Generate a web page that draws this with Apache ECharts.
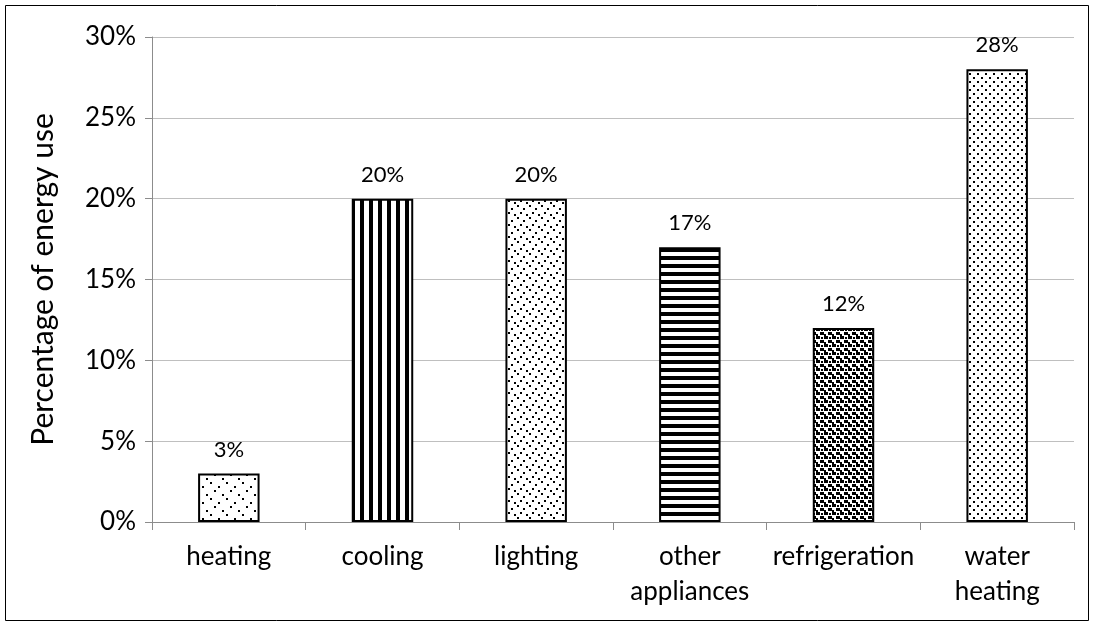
<!DOCTYPE html>
<html><head><meta charset="utf-8">
<script src="https://cdn.jsdelivr.net/npm/echarts@6/dist/echarts.min.js"></script>
<style>html,body{margin:0;padding:0;background:#fff}#c{width:1094px;height:626px}</style>
</head><body><div id="c"></div>
<script>
const categories = ['heating', 'cooling', 'lighting', 'other\nappliances', 'refrigeration', 'water\nheating'];
const values = [3, 20, 20, 17, 12, 28];
const yTicks = [0, 5, 10, 15, 20, 25, 30];

function pat(w, h, draw) {
  const c = document.createElement('canvas');
  c.width = w; c.height = h;
  const g = c.getContext('2d');
  g.fillStyle = '#fff'; g.fillRect(0, 0, w, h);
  g.fillStyle = '#000';
  draw(g);
  return { image: c, repeat: 'repeat' };
}
const patterns = [
  pat(16, 16, g => { g.fillRect(2, 2, 2, 2); g.fillRect(10, 6, 2, 2); g.fillRect(6, 10, 2, 2); g.fillRect(14, 14, 2, 2); }),
  pat(9, 9, g => { g.fillRect(0, 0, 4, 9); }),
  pat(12, 12, g => { g.fillRect(1, 1, 2, 2); g.fillRect(7, 4, 2, 2); g.fillRect(4, 8, 2, 2); g.fillRect(10, 10, 2, 2); }),
  pat(8, 8, g => { g.fillRect(0, 0, 8, 4); }),
  pat(8, 8, g => { g.fillRect(0, 0, 4, 3); g.fillRect(4, 4, 4, 3); g.fillRect(0, 6, 2, 2); g.fillRect(5, 1, 2, 2); }),
  pat(8, 8, g => { g.fillRect(1, 1, 2, 2); g.fillRect(5, 5, 2, 2); })
];

const chart = echarts.init(document.getElementById('c'), null, { renderer: 'canvas' });
const font = 'Lato, "Open Sans", sans-serif';
chart.setOption({
  animation: false,
  backgroundColor: '#fff',
  graphic: [{ type: 'rect', shape: { x: 5.5, y: 5.5, width: 1083, height: 615 }, style: { fill: 'none', stroke: '#000', lineWidth: 1 } }],
  grid: { left: 152, right: 20, top: 37, bottom: 104 },
  xAxis: {
    type: 'category', data: categories,
    axisLine: { lineStyle: { color: '#8c8c8c', width: 1 } },
    axisTick: { show: true, alignWithLabel: false, length: 8, lineStyle: { color: '#8c8c8c' } },
    axisLabel: { color: '#000', fontSize: 26, fontFamily: font, margin: 17, lineHeight: 35, interval: 0 }
  },
  yAxis: {
    type: 'value', min: 0, max: 30, interval: 5,
    name: 'Percentage of energy use', nameLocation: 'middle', nameGap: 94, nameRotate: 90,
    nameTextStyle: { color: '#000', fontSize: 30, fontFamily: font },
    axisLine: { show: true, lineStyle: { color: '#8c8c8c' } },
    axisTick: { show: true, length: 7, lineStyle: { color: '#8c8c8c' } },
    axisLabel: { color: '#000', fontSize: 26, fontFamily: font, margin: 16, formatter: v => v + '%' },
    splitLine: { lineStyle: { color: '#bfbfbf', width: 1 } }
  },
  series: [{
    type: 'bar', barWidth: '40%',
    data: values.map((v, i) => ({ value: v, itemStyle: { color: patterns[i] } })),
    itemStyle: { borderColor: '#000', borderWidth: 2 },
    label: { show: true, position: 'top', distance: 13, color: '#000', fontSize: 22, fontFamily: font, formatter: p => p.value + '%' }
  }]
});
</script></body></html>
